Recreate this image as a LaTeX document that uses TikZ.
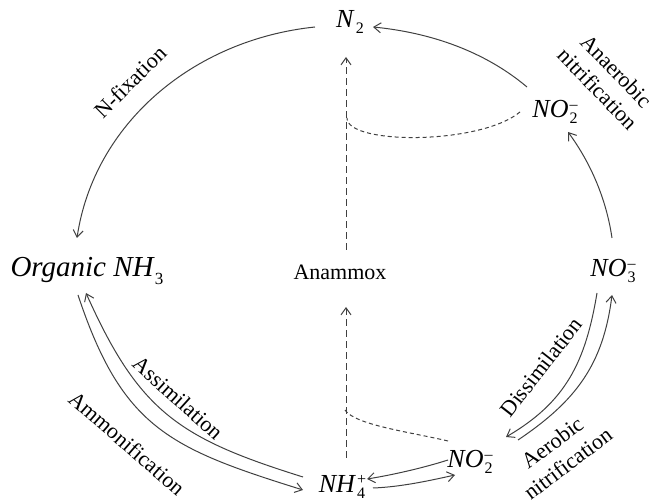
\documentclass[tikz,border=0pt]{standalone}
\usepackage{fontspec}
\setmainfont{Liberation Serif}
\usetikzlibrary{arrows.meta}
\newcommand{\chemion}[3]{\textit{#1}\kern0.04em\makebox[0pt][l]{\raisebox{0.65ex}{\fontsize{8}{8}\selectfont #3}}\raisebox{-0.55ex}{\fontsize{8}{8}\selectfont #2}}
\begin{document}
\begin{tikzpicture}[x=0.5pt,y=-0.5pt,
  chem/.style={font=\fontsize{13}{15}\selectfont, inner sep=0pt},
  lbl/.style={font=\fontsize{11}{13}\selectfont, inner sep=0pt, align=center},
  flow/.style={draw=black!75, line width=0.5pt, -{Straight Barb[length=3.5pt,width=5pt]}},
  dashv/.style={flow, dash pattern=on 3.5pt off 2pt},
  dotc/.style={draw=black!75, line width=0.5pt, dash pattern=on 2pt off 1.5pt}]
\useasboundingbox (0,0) rectangle (653,501);

% nodes
\node[chem] (N2)   at (350,22)  {\chemion{N}{2}{}};
\node[chem] (NO2t) at (555,112) {\chemion{NO}{2}{–}};
\node[chem] (NO3)  at (613,271) {\chemion{NO}{3}{–}};
\node[chem] (NO2b) at (470,462) {\chemion{NO}{2}{–}};
\node[chem] (NH4)  at (342,487) {\chemion{NH}{4}{+}};
\node[chem, font=\fontsize{14.5}{16}\selectfont] (org)  at (87,271)  {\textit{Organic NH}\raisebox{-0.55ex}{\fontsize{8.5}{9}\selectfont 3}};
\node[lbl]  (anam) at (340,272) {Anammox};

\coordinate (jt) at (347,118);
\coordinate (jb) at (345,410);

% process labels
\node[lbl, rotate=45]  (lnf)  at (130,82)  {N-fixation};
\node[lbl, rotate=-46] (lan)  at (607,80)  {Anaerobic\\nitrification};
\node[lbl, rotate=-42] (las)  at (178,398) {Assimilation};
\node[lbl, rotate=-41] (lam)  at (127,443) {Ammonification};
\node[lbl, rotate=52]  (ldi)  at (541,367) {Dissimilation};
\node[lbl, rotate=37]  (lae)  at (560,453) {Aerobic\\nitrification};

% outer cycle arrows
\draw[flow] ([shift={(-35,5)}]N2.center) .. controls +(-122.8,12.8) and +(16.8,-113.4) .. ([shift={(-10,-33)}]org.center);
\draw[flow] ([shift={(-28,-25)}]NO2t.center) .. controls +(-42.6,-35.9) and +(57.2,5.6) .. ([shift={(23,5)}]N2.center);
\draw[flow] ([shift={(-1,-33)}]NO3.center) .. controls +(-5.6,-38.1) and +(23.3,31.8) .. ([shift={(13,20)}]NO2t.center);

% organic <-> NH4
\draw[flow] ([shift={(-9,24)}]org.center) .. controls +(44.2,132.9) and +(-133.6,-41.7) .. ([shift={(-39,3)}]NH4.center);
\draw[flow] ([shift={(-39,-10)}]NH4.center) .. controls +(-124,-38.7) and +(53,118.7) .. ([shift={(-1,22)}]org.center);

% NH4 <-> NO2
\draw[flow] ([shift={(-22,-2)}]NO2b.center) .. controls +(-25,8) and +(25,-4) .. ([shift={(25,-8)}]NH4.center);
\draw[flow] ([shift={(31,1)}]NH4.center) .. controls +(27,-1) and +(-27,6) .. ([shift={(-15,13)}]NO2b.center);

% NO2 <-> NO3
\draw[flow] ([shift={(-16,22)}]NO3.center) .. controls +(-11.5,69) and +(60,-35) .. ([shift={(36,-25)}]NO2b.center);
\draw[flow] ([shift={(48,-22)}]NO2b.center) .. controls +(58,-39) and +(-8.7,69.5) .. ([shift={(-1,24)}]NO3.center);

% anammox dashed lines
\draw[dashv] ([shift={(6,-22)}]anam.center) -- ([shift={(-4,35)}]N2.center);
\draw[dashv] ([shift={(4,-29)}]NH4.center) -- ([shift={(6,35)}]anam.center);
\draw[dotc] ([shift={(-35,0)}]NO2t.center) .. controls +(-40,33) and +(0,27) .. (jt);
\draw[dotc] ([shift={(-22,-21)}]NO2b.center) .. controls +(-38,-9) and +(10,15) .. (jb);
\end{tikzpicture}
\end{document}
